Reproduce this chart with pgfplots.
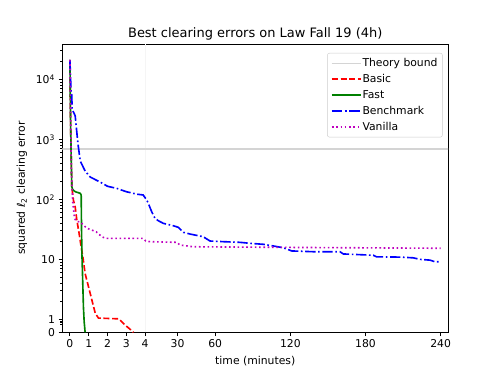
\documentclass[border=0pt]{standalone}
\usepackage{fontspec}
\setmainfont{DejaVu Sans}
\usepackage{pgfplots}
\pgfplotsset{compat=1.18}
\definecolor{mplred}{rgb}{1,0,0}
\definecolor{mplgreen}{rgb}{0,0.5,0}
\definecolor{mplblue}{rgb}{0,0,1}
\definecolor{mplmag}{rgb}{0.75,0,0.75}
\definecolor{theory}{rgb}{0.83,0.83,0.83}
\definecolor{legframe}{rgb}{0.8,0.8,0.8}
\newcommand{\fpuparse}[1]{{\pgfkeys{/pgf/fpu=true,/pgf/fpu/output format=fixed}\pgfmathparse{#1}\global\let\fputmp\pgfmathresult}\let\pgfmathresult\fputmp}
\begin{document}
\begin{tikzpicture}
\path[use as bounding box] (-57.8pt,-38.6pt) rectangle (402.8pt,307.4pt);
\begin{axis}[
  scale only axis, width=356.6pt, height=266.7pt,
  at={(0,0)}, anchor=south west,
  x coord trafo/.code={\fpuparse{(#1<=4)*15*(#1)+(#1>4)*(56+(#1))}},
  y coord trafo/.code={\fpuparse{(#1<=1)*0.2167*(#1)+(#1>1)*(0.2167+log10(max(#1,1)))}},
  xmin=-0.3947, xmax=245.92, ymin=0, ymax=38730,
  xtick={0,1,2,3,4,30,60,120,180,240},
  xticklabels={0,1,2,3,4,30,60,120,180,240},
  ytick={0,1,10,100,1000,10000},
  yticklabels={0,1,10,10\textsuperscript{2},10\textsuperscript{3},10\textsuperscript{4}},
  minor ytick={0.62,0.75,0.88,2,3,4,5,6,7,8,9,20,30,40,50,60,70,80,90,200,300,400,500,600,700,800,900,2000,3000,4000,5000,6000,7000,8000,9000,20000,30000},
  xtick pos=bottom, ytick pos=left,
  tick align=outside,
  major tick length=3.5pt, minor tick length=2pt,
  every tick/.style={black, line width=0.8pt},
  minor tick style={black, line width=0.6pt},
  axis line style={black, line width=0.8pt},
  tick label style={font=\fontsize{10}{12}\selectfont},
  title={Best clearing errors on Law Fall 19 (4h)},
  title style={font=\fontsize{12}{14}\selectfont, at={(axis description cs:0.5,0.9985)}, anchor=base},
  xlabel={time (minutes)},
  xlabel style={font=\fontsize{10}{12}\selectfont, at={(axis description cs:0.5,-0.1)}, anchor=center},
  ylabel={squared ℓ\textsubscript{2} clearing error},
  ylabel style={font=\fontsize{10}{12}\selectfont, at={(axis description cs:-0.105,0.5)}, anchor=center},
  legend cell align=left,
  legend image code/.code={\draw[#1] (0pt,0pt) -- (20.4pt,0pt); \path (0pt,0pt) -- (26.5pt,0pt);},
  legend style={at={(rel axis cs:0.986,0.969)}, anchor=north east,
    draw=legframe, rounded corners=2pt, fill=white, fill opacity=0.8, text opacity=1,
    font=\fontsize{10}{12}\selectfont, row sep=2.3pt, inner xsep=3.5pt, inner ysep=3pt,
    nodes={inner sep=1pt, text height=8pt, text depth=2.5pt}},
]
\addplot[forget plot, color=black!4, line width=0.8pt] coordinates {(4,0) (4,38730)};
\addplot[theory, line width=1pt] coordinates {(-1,690) (250,690)};
\addlegendentry{Theory bound}
\addplot[mplred, line width=1.5pt, dash pattern=on 5.55pt off 2.4pt] coordinates {
(0,21000) (0.04,1500) (0.1,162) (0.19,96) (0.28,75) (0.37,45) (0.49,27) (0.6,16) (0.69,11) (0.81,5.8) (0.9,4.5) (1.17,2.1) (1.35,1.26) (1.52,1.05) (2.6,1.02) (2.94,0.56) (3.3,0.12) (3.38,0)
};
\addlegendentry{Basic}
\addplot[mplgreen, line width=1.5pt] coordinates {
(0,21000) (0.04,1500) (0.1,162) (0.15,145) (0.28,134) (0.55,126) (0.6,118) (0.62,30) (0.64,12) (0.67,5.8) (0.72,1.6) (0.76,0.8) (0.81,0)
};
\addlegendentry{Fast}
\addplot[mplblue, line width=1.5pt, dash pattern=on 9.6pt off 2.4pt on 1.5pt off 2.4pt] coordinates {
(0,21000) (0.05,8000) (0.07,5690) (0.1,5500) (0.12,3000) (0.19,2850) (0.28,2470) (0.43,835) (0.55,435) (0.81,296) (1.08,235) (1.61,194) (2.0,165) (2.5,152) (3.0,134) (3.56,122) (3.9,118) (5.4,97) (6.6,85.7) (9.3,62) (12,48) (14.6,44) (18.6,39.8) (26.6,36.3) (30.6,34.1) (34.6,28.2) (39.9,26.4) (50.5,23.8) (53,22) (55.9,20.2) (66.5,19.7) (79.8,19.2) (87.8,18.5) (98.4,17.8) (106.4,16.7) (114.4,15.6) (121.1,13.8) (138.3,13.4) (159.6,13.4) (162.3,12.3) (186.2,11.7) (188.9,11.0) (207.5,10.9) (218.1,10.6) (223.5,10.0) (231.5,9.7) (235.5,9.1) (240,9.1)
};
\addlegendentry{Benchmark}
\addplot[mplmag, line width=1.5pt, dash pattern=on 1.5pt off 2.475pt] coordinates {
(0,21000) (0.04,2000) (0.08,300) (0.15,90) (0.25,48) (0.35,43) (0.55,42) (0.9,33) (1.4,28.8) (1.7,23.8) (1.9,22.4) (3.9,22.4) (4.5,20.2) (8,19.7) (29.3,19.2) (31.9,17.3) (42.5,16.2) (120,15.8) (240,15.3)
};
\addlegendentry{Vanilla}
\end{axis}
\end{tikzpicture}
\end{document}
